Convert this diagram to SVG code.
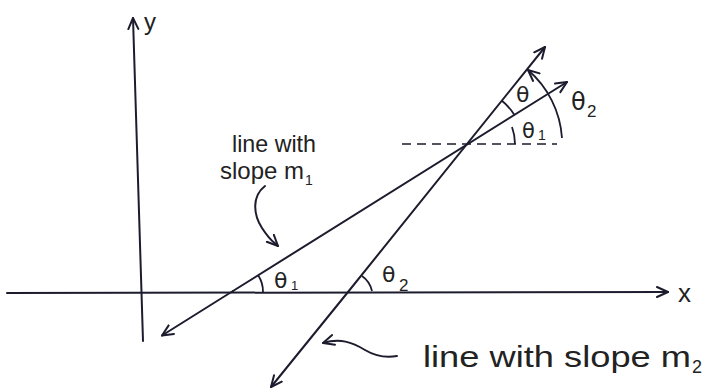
<svg xmlns="http://www.w3.org/2000/svg" width="709" height="389" viewBox="0 0 709 389">
<defs>
<marker id="arr" markerUnits="userSpaceOnUse" markerWidth="14" markerHeight="14" refX="12" refY="6" orient="auto" viewBox="0 0 14 12">
<path d="M1,1 L12,6 L1,11" fill="none" stroke="#1c1c2e" stroke-width="2" stroke-linecap="round" stroke-linejoin="round"/>
</marker>
</defs>
<style>
.ln{fill:none;stroke:#1c1c2e;stroke-width:2;stroke-linecap:round}
.arc{fill:none;stroke:#1c1c2e;stroke-width:1.8}
.t{font-family:"Liberation Sans","DejaVu Sans",sans-serif;fill:#222}
.g{font-family:"DejaVu Sans","Liberation Sans",sans-serif;fill:#222}
</style>
<rect width="709" height="389" fill="#fff"/>
<g id="axes">
<line class="ln" x1="7" y1="293" x2="668" y2="292" marker-end="url(#arr)"/>
<line class="ln" x1="143" y1="341" x2="133" y2="18" marker-end="url(#arr)"/>
<text class="t" x="144" y="30" font-size="24">y</text>
<text class="t" x="678" y="302" font-size="26">x</text>
</g>
<g id="connectors">
<line class="ln" x1="233" y1="291" x2="162" y2="335.5" marker-end="url(#arr)"/>
<line class="ln" x1="233" y1="291" x2="567" y2="82" marker-end="url(#arr)"/>
<line class="ln" x1="348" y1="292" x2="271" y2="387" marker-end="url(#arr)"/>
<line class="ln" x1="348" y1="292" x2="545" y2="47" marker-end="url(#arr)"/>
<line x1="402" y1="144" x2="557" y2="144" stroke="#1c1c2e" stroke-width="1.4" stroke-dasharray="9 6"/>
<path class="ln" d="M265,186 C252,196 253,214 262,228 S274,242 278,246" marker-end="url(#arr)" stroke-width="1.8"/>
<path class="ln" d="M397,356 C385,358 375,356 365,350 C352,342 340,338 323,343" marker-end="url(#arr)" stroke-width="1.8"/>
</g>
<g id="angles">
<path class="arc" d="M514.3,114.7 A57,57 0 0 0 501.6,100.5" stroke-width="3"/>
<path class="arc" d="M515,144 A49,49 0 0 0 512,127"/>
<path class="arc" d="M562,138 A98,98 0 0 0 528,70" marker-end="url(#arr)"/>
<path class="arc" d="M263,292 A30,30 0 0 0 258,275"/>
<path class="arc" d="M372,291 A25,25 0 0 0 362,276"/>
</g>
<g id="labels">
<text class="g" x="516" y="102" font-size="22">θ</text>
<text class="g" x="522" y="138" font-size="21">θ</text>
<text class="t" x="538" y="140" font-size="14">1</text>
<text class="g" x="571" y="110" font-size="24">θ</text>
<text class="t" x="587" y="117" font-size="17">2</text>
<text class="g" x="274" y="288" font-size="22">θ</text>
<text class="t" x="291" y="290" font-size="13">1</text>
<text class="g" x="382" y="282" font-size="22">θ</text>
<text class="t" x="399" y="291" font-size="17">2</text>
<text class="t" x="232" y="152" font-size="24" textLength="84" lengthAdjust="spacingAndGlyphs">line with</text>
<text class="t" x="220" y="179" font-size="24" textLength="84" lengthAdjust="spacingAndGlyphs">slope m</text>
<text class="t" x="305" y="185" font-size="14">1</text>
<text class="t" x="423" y="367" font-size="30" textLength="268" lengthAdjust="spacingAndGlyphs">line with slope m</text>
<text class="t" x="692" y="373" font-size="18">2</text>
</g>
</svg>
